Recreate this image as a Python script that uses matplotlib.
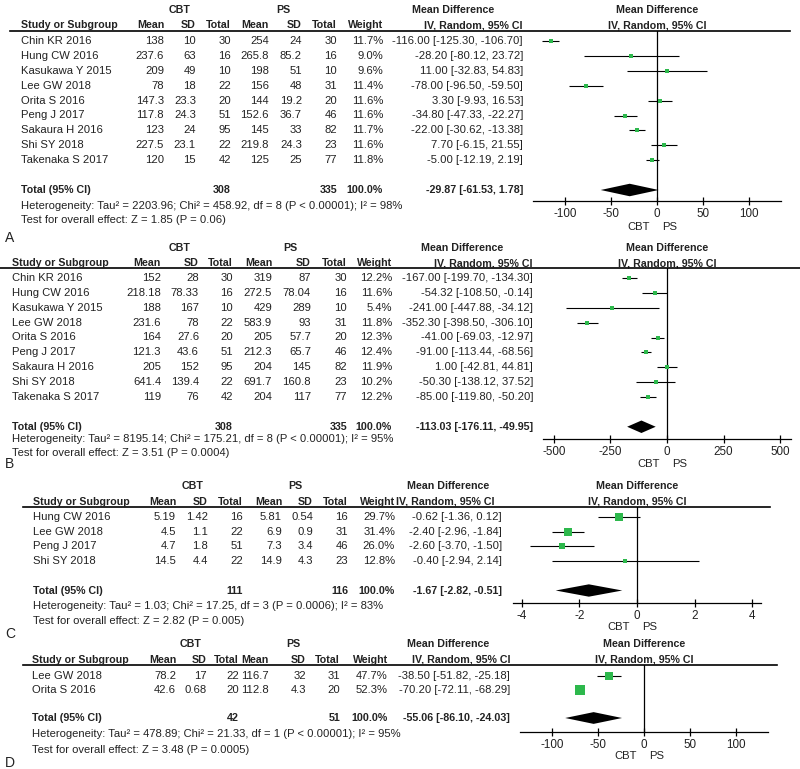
import numpy as np
import matplotlib.pyplot as plt
from matplotlib.lines import Line2D
from matplotlib.transforms import Affine2D, blended_transform_factory

plt.rcParams['font.family'] = ['Liberation Sans', 'DejaVu Sans']

# ---------------- data ----------------
studies_a = ["Chin KR 2016", "Hung CW 2016", "Kasukawa Y 2015", "Lee GW 2018", "Orita S 2016",
             "Peng J 2017", "Sakaura H 2016", "Shi SY 2018", "Takenaka S 2017"]
cbt_mean_a = [138, 237.6, 209, 78, 147.3, 117.8, 123, 227.5, 120]
cbt_sd_a = [10, 63, 49, 18, 23.3, 24.3, 24, 23.1, 15]
cbt_n_a = [30, 16, 10, 22, 20, 51, 95, 22, 42]
ps_mean_a = [254, 265.8, 198, 156, 144, 152.6, 145, 219.8, 125]
ps_sd_a = [24, 85.2, 51, 48, 19.2, 36.7, 33, 24.3, 25]
ps_n_a = [30, 16, 10, 31, 20, 46, 82, 23, 77]
weight_a = [11.7, 9.0, 9.6, 11.4, 11.6, 11.6, 11.7, 11.6, 11.8]
md_a = [-116.00, -28.20, 11.00, -78.00, 3.30, -34.80, -22.00, 7.70, -5.00]
lo_a = [-125.30, -80.12, -32.83, -96.50, -9.93, -47.33, -30.62, -6.15, -12.19]
hi_a = [-106.70, 23.72, 54.83, -59.50, 16.53, -22.27, -13.38, 21.55, 2.19]
total_a = (308, 335)
pooled_a = (-29.87, -61.53, 1.78)
het_a = "Heterogeneity: Tau² = 2203.96; Chi² = 458.92, df = 8 (P < 0.00001); I² = 98%"
test_a = "Test for overall effect: Z = 1.85 (P = 0.06)"
ticks_a = [-100, -50, 0, 50, 100]

studies_b = studies_a
cbt_mean_b = [152, 218.18, 188, 231.6, 164, 121.3, 205, 641.4, 119]
cbt_sd_b = [28, 78.33, 167, 78, 27.6, 43.6, 152, 139.4, 76]
cbt_n_b = [30, 16, 10, 22, 20, 51, 95, 22, 42]
ps_mean_b = [319, 272.5, 429, 583.9, 205, 212.3, 204, 691.7, 204]
ps_sd_b = [87, 78.04, 289, 93, 57.7, 65.7, 145, 160.8, 117]
ps_n_b = [30, 16, 10, 31, 20, 46, 82, 23, 77]
weight_b = [12.2, 11.6, 5.4, 11.8, 12.3, 12.4, 11.9, 10.2, 12.2]
md_b = [-167.00, -54.32, -241.00, -352.30, -41.00, -91.00, 1.00, -50.30, -85.00]
lo_b = [-199.70, -108.50, -447.88, -398.50, -69.03, -113.44, -42.81, -138.12, -119.80]
hi_b = [-134.30, -0.14, -34.12, -306.10, -12.97, -68.56, 44.81, 37.52, -50.20]
total_b = (308, 335)
pooled_b = (-113.03, -176.11, -49.95)
het_b = "Heterogeneity: Tau² = 8195.14; Chi² = 175.21, df = 8 (P < 0.00001); I² = 95%"
test_b = "Test for overall effect: Z = 3.51 (P = 0.0004)"
ticks_b = [-500, -250, 0, 250, 500]

studies_c = ["Hung CW 2016", "Lee GW 2018", "Peng J 2017", "Shi SY 2018"]
cbt_mean_c = [5.19, 4.5, 4.7, 14.5]
cbt_sd_c = [1.42, 1.1, 1.8, 4.4]
cbt_n_c = [16, 22, 51, 22]
ps_mean_c = [5.81, 6.9, 7.3, 14.9]
ps_sd_c = [0.54, 0.9, 3.4, 4.3]
ps_n_c = [16, 31, 46, 23]
weight_c = [29.7, 31.4, 26.0, 12.8]
md_c = [-0.62, -2.40, -2.60, -0.40]
lo_c = [-1.36, -2.96, -3.70, -2.94]
hi_c = [0.12, -1.84, -1.50, 2.14]
total_c = (111, 116)
pooled_c = (-1.67, -2.82, -0.51)
het_c = "Heterogeneity: Tau² = 1.03; Chi² = 17.25, df = 3 (P = 0.0006); I² = 83%"
test_c = "Test for overall effect: Z = 2.82 (P = 0.005)"
ticks_c = [-4, -2, 0, 2, 4]

studies_d = ["Lee GW 2018", "Orita S 2016"]
cbt_mean_d = [78.2, 42.6]
cbt_sd_d = [17, 0.68]
cbt_n_d = [22, 20]
ps_mean_d = [116.7, 112.8]
ps_sd_d = [32, 4.3]
ps_n_d = [31, 20]
weight_d = [47.7, 52.3]
md_d = [-38.50, -70.20]
lo_d = [-51.82, -72.11]
hi_d = [-25.18, -68.29]
total_d = (42, 51)
pooled_d = (-55.06, -86.10, -24.03)
het_d = "Heterogeneity: Tau² = 478.89; Chi² = 21.33, df = 1 (P < 0.00001); I² = 95%"
test_d = "Test for overall effect: Z = 3.48 (P = 0.0005)"
ticks_d = [-100, -50, 0, 50, 100]

# ---------------- layout (pixels, top-left origin) ----------------
W, H = 800, 769
GREEN = '#2db84c'
TXT = '#222222'
FS = 8.1
FSB = 7.7

layout = {
    'A': dict(row0=41, sp=14.9, grp=10, col=25, line=31, axis=201, het=206, test=220, letter=238,
              fav=227, zero=657, half=135.5, lx=(10, 790), cols=[21, 164, 196, 231, 269, 302, 337, 383, 523],
              cbt_c=180, ps_c=283, md_l=412, iv_r=523),
    'B': dict(row0=278, sp=14.875, grp=248, col=263, line=268, axis=439, het=439, test=453, letter=464,
              fav=464, zero=667, half=548, lx=(0, 800), cols=[12, 161, 199, 233, 272, 311, 347, 392, 533],
              cbt_c=180, ps_c=290, md_l=421, iv_r=533),
    'C': dict(row0=517, sp=14.7, grp=486, col=502, line=507, axis=603, het=606, test=621, letter=634,
              fav=627, zero=637, half=4.3, lx=(23, 770), cols=[33, 176, 208, 243, 282, 313, 348, 395, 502],
              cbt_c=193, ps_c=295, md_l=407, iv_r=494),
    'D': dict(row0=676, sp=14.0, grp=644, col=660, line=665, axis=732, het=734, test=750, letter=763,
              fav=756, zero=644, half=135.5, lx=(23, 777), cols=[32, 176, 207, 239, 269, 306, 340, 388, 510],
              cbt_c=191, ps_c=293, md_l=407, iv_r=511),
}

fig = plt.figure(figsize=(W / 100, H / 100), dpi=100)
px = Affine2D().scale(1 / W, -1 / H).translate(0, 1) + fig.transFigure


def fmt(v):
    return f"{v:g}"


def draw_panel(letter, studies, cm, cs, cn, pm, ps_, pn, wt, md, lo, hi, tot, pooled, het, test, ticks):
    g = layout[letter]
    n = len(studies)
    r0, sp = g['row0'], g['sp']
    top_r = (g['line'] - r0) / sp
    bot_r = (g['axis'] - r0) / sp
    left = g['zero'] - 124
    ax = fig.add_axes([left / W, 1 - g['axis'] / H, 248 / W, (g['axis'] - g['line']) / H])
    ax.set_xlim(-g['half'], g['half'])
    ax.set_ylim(bot_r, top_r)
    for s in ['top', 'left', 'right']:
        ax.spines[s].set_visible(False)
    ax.spines['bottom'].set_linewidth(0.9)
    ax.set_yticks([])
    ax.set_xticks(ticks)
    ax.set_xticklabels([str(t) for t in ticks])
    ax.tick_params(axis='x', direction='inout', length=5.5, width=0.9, pad=2,
                   labelsize=8.4, labelcolor=TXT)
    ax.patch.set_alpha(0)
    ax.axvline(0, color='k', lw=0.9)

    # study rows
    for i in range(n):
        ax.plot([lo[i], hi[i]], [i, i], color='k', lw=0.8, solid_capstyle='butt')
        ax.plot(md[i], i, marker='s', ls='none', ms=1.3 * np.sqrt(wt[i]) * 0.72,
                color=GREEN, mec=GREEN, mew=0)
    yt = n + 1
    ax.fill([pooled[1], pooled[0], pooled[2], pooled[0]], [yt, yt - 0.42, yt, yt + 0.42],
            color='k', lw=0)

    # table text
    tr = blended_transform_factory(px, ax.transData)
    c = g['cols']
    for i in range(n):
        vals = [fmt(cm[i]), fmt(cs[i]), str(cn[i]), fmt(pm[i]), fmt(ps_[i]), str(pn[i]),
                f"{wt[i]:.1f}%", f"{md[i]:.2f} [{lo[i]:.2f}, {hi[i]:.2f}]"]
        ax.text(c[0], i, studies[i], transform=tr, ha='left', va='center', fontsize=FS, color=TXT)
        for x, v in zip(c[1:], vals):
            ax.text(x, i, v, transform=tr, ha='right', va='center', fontsize=FS, color=TXT)
    bold = dict(transform=tr, va='center', fontsize=FSB, color=TXT, fontweight='bold')
    ax.text(c[0], yt, "Total (95% CI)", ha='left', **bold)
    ax.text(c[3], yt, str(tot[0]), ha='right', **bold)
    ax.text(c[6], yt, str(tot[1]), ha='right', **bold)
    ax.text(c[7], yt, "100.0%", ha='right', **bold)
    ax.text(c[8], yt, f"{pooled[0]:.2f} [{pooled[1]:.2f}, {pooled[2]:.2f}]", ha='right', **bold)

    # headers
    hb = dict(transform=px, va='center', fontsize=FSB, color=TXT, fontweight='bold')
    fig.text(g['cbt_c'], g['grp'], "CBT", ha='center', **hb)
    fig.text(g['ps_c'], g['grp'], "PS", ha='center', **hb)
    fig.text(c[0], g['col'], "Study or Subgroup", ha='left', **hb)
    for x, lab in zip(c[1:8], ["Mean", "SD", "Total", "Mean", "SD", "Total", "Weight"]):
        fig.text(x, g['col'], lab, ha='right', **hb)
    fig.text(g['md_l'], g['grp'], "Mean Difference", ha='left', **hb)
    fig.text(g['iv_r'], g['col'], "IV, Random, 95% CI", ha='right', **hb)
    trp = blended_transform_factory(ax.transData, px)
    hp = dict(transform=trp, va='center', ha='center', fontsize=FSB, color=TXT, fontweight='bold')
    ax.text(0, g['grp'], "Mean Difference", **hp)
    ax.text(0, g['col'], "IV, Random, 95% CI", **hp)
    fig.add_artist(Line2D(list(g['lx']), [g['line'], g['line']], transform=px, color='k', lw=1.2))

    # footer
    fig.text(c[0], g['het'], het, transform=px, ha='left', va='center', fontsize=FS, color=TXT)
    fig.text(c[0], g['test'], test, transform=px, ha='left', va='center', fontsize=FS, color=TXT)
    fig.text(5, g['letter'], letter, transform=px, ha='left', va='center', fontsize=10, color=TXT)
    ax.annotate("CBT", xy=(0, g['fav']), xycoords=trp, xytext=(-5, 0), textcoords='offset points',
                ha='right', va='center', fontsize=FS, color=TXT)
    ax.annotate("PS", xy=(0, g['fav']), xycoords=trp, xytext=(4, 0), textcoords='offset points',
                ha='left', va='center', fontsize=FS, color=TXT)


draw_panel('A', studies_a, cbt_mean_a, cbt_sd_a, cbt_n_a, ps_mean_a, ps_sd_a, ps_n_a, weight_a,
           md_a, lo_a, hi_a, total_a, pooled_a, het_a, test_a, ticks_a)
draw_panel('B', studies_b, cbt_mean_b, cbt_sd_b, cbt_n_b, ps_mean_b, ps_sd_b, ps_n_b, weight_b,
           md_b, lo_b, hi_b, total_b, pooled_b, het_b, test_b, ticks_b)
draw_panel('C', studies_c, cbt_mean_c, cbt_sd_c, cbt_n_c, ps_mean_c, ps_sd_c, ps_n_c, weight_c,
           md_c, lo_c, hi_c, total_c, pooled_c, het_c, test_c, ticks_c)
draw_panel('D', studies_d, cbt_mean_d, cbt_sd_d, cbt_n_d, ps_mean_d, ps_sd_d, ps_n_d, weight_d,
           md_d, lo_d, hi_d, total_d, pooled_d, het_d, test_d, ticks_d)

fig.savefig("out.png", dpi=100, facecolor='white')
